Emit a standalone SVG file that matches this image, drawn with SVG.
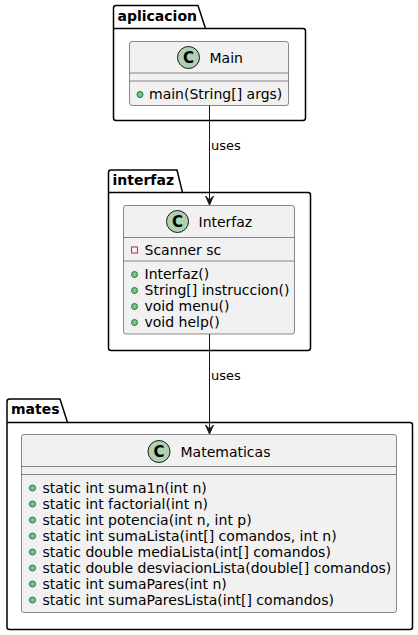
<svg xmlns="http://www.w3.org/2000/svg" width="418" height="635" viewBox="0 0 418 635">
<style>
.pkg{fill:none;stroke:#000;stroke-width:1.5}
.pkgname{font-family:"DejaVu Sans",sans-serif;font-size:14px;font-weight:bold;fill:#000}
.cls{fill:#F1F1F1;stroke:#181818;stroke-width:0.5}
.sep{stroke:#181818;stroke-width:0.5}
.spot{fill:#ADD1B2;stroke:#181818;stroke-width:1}
.spotc{font-family:"DejaVu Sans",sans-serif;font-size:15px;font-weight:bold;fill:#000;text-anchor:middle}
.cname{font-family:"DejaVu Sans",sans-serif;font-size:14px;fill:#000}
.mem{font-family:"DejaVu Sans",sans-serif;font-size:14px;fill:#000}
.pub{fill:#84BE84;stroke:#038048;stroke-width:1}
.priv{fill:none;stroke:#C82930;stroke-width:1}
.lbl{font-family:"DejaVu Sans",sans-serif;font-size:13px;fill:#000}
.edge{stroke:#181818;stroke-width:1;fill:none}
.head{fill:#181818;stroke:#181818;stroke-width:1}
</style>
<g id="pkg-aplicacion">
<path class="pkg" d="M116,5.5 L198,5.5 L205.5,28.5 L303,28.5 Q305.5,28.5 305.5,31 L305.5,118 Q305.5,120.5 303,120.5 L116,120.5 Q113.5,120.5 113.5,118 L113.5,8 Q113.5,5.5 116,5.5 Z"/>
<line class="pkg" x1="113.5" y1="28.5" x2="205.5" y2="28.5"/>
<text class="pkgname" x="117.5" y="20.5">aplicacion</text>
</g>
<g id="pkg-interfaz">
<path class="pkg" d="M111,170 L177,170 L182.5,192.5 L308,192.5 Q310.5,192.5 310.5,195 L310.5,348 Q310.5,350.5 308,350.5 L111,350.5 Q108.5,350.5 108.5,348 L108.5,172.5 Q108.5,170 111,170 Z"/>
<line class="pkg" x1="108.5" y1="192.5" x2="182.5" y2="192.5"/>
<text class="pkgname" x="112.5" y="185">interfaz</text>
</g>
<g id="pkg-mates">
<path class="pkg" d="M9.5,399 L60,399 L67.5,422.5 L410,422.5 Q412.5,422.5 412.5,425 L412.5,627 Q412.5,629.5 410,629.5 L9.5,629.5 Q7,629.5 7,627 L7,401.5 Q7,399 9.5,399 Z"/>
<line class="pkg" x1="7" y1="422.5" x2="67.5" y2="422.5"/>
<text class="pkgname" x="11" y="414">mates</text>
</g>
<g id="class-Main">
<rect class="cls" x="129.5" y="41.5" width="159" height="64" rx="2.5"/>
<circle class="spot" cx="188.5" cy="57.5" r="11"/>
<text class="spotc" x="188.5" y="62.8">C</text>
<text class="cname" x="209.5" y="62.5">Main</text>
<line class="sep" x1="129.5" y1="73" x2="288.5" y2="73"/>
<line class="sep" x1="129.5" y1="81" x2="288.5" y2="81"/>
<circle class="pub" cx="140" cy="94.5" r="3"/>
<text class="mem" x="149" y="99">main(String[] args)</text>
</g>
<g id="class-Interfaz">
<rect class="cls" x="123.5" y="205.5" width="171" height="128.5" rx="2.5"/>
<circle class="spot" cx="177.5" cy="221.5" r="11"/>
<text class="spotc" x="177.5" y="226.8">C</text>
<text class="cname" x="198.5" y="226.5">Interfaz</text>
<line class="sep" x1="123.5" y1="237.5" x2="294.5" y2="237.5"/>
<rect class="priv" x="131.5" y="247" width="6" height="6"/>
<text class="mem" x="144.5" y="255">Scanner sc</text>
<line class="sep" x1="123.5" y1="261" x2="294.5" y2="261"/>
<circle class="pub" cx="134.5" cy="274.5" r="3"/>
<text class="mem" x="144.5" y="279">Interfaz()</text>
<circle class="pub" cx="134.5" cy="290.5" r="3"/>
<text class="mem" x="144.5" y="295">String[] instruccion()</text>
<circle class="pub" cx="134.5" cy="306.5" r="3"/>
<text class="mem" x="144.5" y="311">void menu()</text>
<circle class="pub" cx="134.5" cy="322.5" r="3"/>
<text class="mem" x="144.5" y="327">void help()</text>
</g>
<g id="class-Matematicas">
<rect class="cls" x="21.5" y="434.5" width="375" height="178" rx="2.5"/>
<circle class="spot" cx="159" cy="451.5" r="11"/>
<text class="spotc" x="159" y="456.8">C</text>
<text class="cname" x="180.5" y="456.5">Matematicas</text>
<line class="sep" x1="21.5" y1="466.5" x2="396.5" y2="466.5"/>
<line class="sep" x1="21.5" y1="474.5" x2="396.5" y2="474.5"/>
<circle class="pub" cx="32.5" cy="488" r="3"/>
<text class="mem" x="42.5" y="492.5">static int suma1n(int n)</text>
<circle class="pub" cx="32.5" cy="504" r="3"/>
<text class="mem" x="42.5" y="508.5">static int factorial(int n)</text>
<circle class="pub" cx="32.5" cy="520" r="3"/>
<text class="mem" x="42.5" y="524.5">static int potencia(int n, int p)</text>
<circle class="pub" cx="32.5" cy="536" r="3"/>
<text class="mem" x="42.5" y="540.5">static int sumaLista(int[] comandos, int n)</text>
<circle class="pub" cx="32.5" cy="552" r="3"/>
<text class="mem" x="42.5" y="556.5">static double mediaLista(int[] comandos)</text>
<circle class="pub" cx="32.5" cy="568" r="3"/>
<text class="mem" x="42.5" y="572.5">static double desviacionLista(double[] comandos)</text>
<circle class="pub" cx="32.5" cy="584" r="3"/>
<text class="mem" x="42.5" y="588.5">static int sumaPares(int n)</text>
<circle class="pub" cx="32.5" cy="600" r="3"/>
<text class="mem" x="42.5" y="604.5">static int sumaParesLista(int[] comandos)</text>
</g>
<g id="connectors">
<line class="edge" x1="209.5" y1="105.5" x2="209.5" y2="200"/>
<polygon class="head" points="209.5,205 205.5,196 209.5,200 213.5,196"/>
<text class="lbl" x="211" y="149.5">uses</text>
<line class="edge" x1="209.5" y1="334" x2="209.5" y2="429"/>
<polygon class="head" points="209.5,434 205.5,425 209.5,429 213.5,425"/>
<text class="lbl" x="211" y="379.5">uses</text>
</g>
</svg>
